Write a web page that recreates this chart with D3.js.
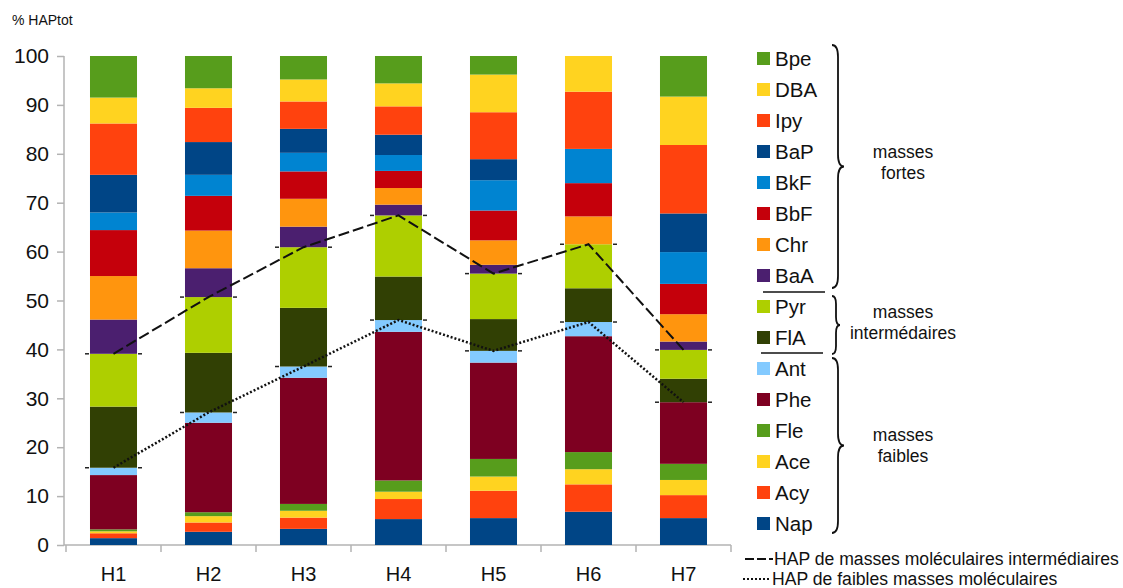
<!DOCTYPE html>
<html>
<head>
<meta charset="utf-8">
<script src="https://cdn.jsdelivr.net/npm/d3@7"></script>
<style>
  body { margin: 0; background: #fff; }
  text { font-family: "Liberation Sans", Arial, sans-serif; }
</style>
</head>
<body>
<div id="chart"></div>
<script>
const W = 1123, H = 588;
const margin = {top: 56, left: 66, bottom: 43};
const bandStep = 95;

// sites
const categories = ["H1", "H2", "H3", "H4", "H5", "H6", "H7"];
// species, bottom to top of each bar
const species = ["Nap", "Acy", "Ace", "Fle", "Phe", "Ant", "FlA", "Pyr", "BaA", "Chr", "BbF", "BkF", "BaP", "Ipy", "DBA", "Bpe"];
const colors = ["#004586", "#ff420e", "#ffd320", "#579d1c", "#7e0021", "#83caff", "#314004", "#aecf00",
                "#4b1f6f", "#ff950e", "#c5000b", "#0084d1", "#004586", "#ff420e", "#ffd320", "#579d1c"];

// % of total HAP per site
const nap = [1.4, 2.7, 3.3, 5.3, 5.5, 6.8, 5.5];
const acy = [1.0, 1.9, 2.3, 4.1, 5.6, 5.6, 4.7];
const ace = [0.4, 1.3, 1.4, 1.5, 2.9, 3.1, 3.1];
const fle = [0.4, 0.8, 1.4, 2.3, 3.6, 3.5, 3.3];
const phe = [11.1, 18.3, 25.8, 30.4, 19.7, 23.7, 12.6];
const ant = [1.5, 2.1, 2.3, 2.4, 2.4, 2.9, 0];
const fla = [12.5, 12.2, 12.0, 8.9, 6.5, 6.9, 4.8];
const pyr = [10.8, 11.4, 12.4, 12.5, 9.3, 9.0, 5.9];
const baa = [7.0, 5.9, 4.2, 2.2, 1.8, 0, 1.7];
const chr = [8.9, 7.7, 5.7, 3.4, 5.0, 5.7, 5.6];
const bbf = [9.4, 7.1, 5.6, 3.5, 6.1, 6.8, 6.2];
const bkf = [3.6, 4.3, 3.8, 3.25, 6.2, 7.0, 6.5];
const bap = [7.7, 6.7, 4.9, 4.15, 4.3, 0, 7.9];
const ipy = [10.5, 7.0, 5.6, 5.8, 9.6, 11.7, 14.0];
const dba = [5.3, 4.0, 4.5, 4.7, 7.7, 7.3, 9.9];
const bpe = [8.5, 6.6, 4.8, 5.6, 3.8, 0, 8.3];

const yTicks = [0, 10, 20, 30, 40, 50, 60, 70, 80, 90, 100];

const seriesValues = [nap, acy, ace, fle, phe, ant, fla, pyr, baa, chr, bbf, bkf, bap, ipy, dba, bpe];

// table for d3.stack
const table = categories.map((c, i) => {
    const row = {site: c};
    species.forEach((s, k) => { row[s] = seriesValues[k][i]; });
    return row;
});

const svg = d3.select("#chart").append("svg")
    .attr("width", W).attr("height", H);

const xScale = d3.scaleBand()
    .domain(categories)
    .range([margin.left, margin.left + bandStep * categories.length])
    .paddingInner(0.505).paddingOuter(0.2525);
const yScale = d3.scaleLinear().domain([0, 100]).range([H - margin.bottom, margin.top]);

const stacked = d3.stack().keys(species)(table);
const colorOf = d3.scaleOrdinal().domain(species).range(colors);

// y axis
const yAxis = svg.append("g")
    .attr("transform", "translate(64,0)")
    .call(d3.axisLeft(yScale).tickValues(yTicks).tickSize(7).tickPadding(8));
yAxis.select(".domain").attr("stroke", "#b3b3b3").attr("stroke-width", 1.5).attr("d", "M0," + yScale(0) + "V" + yScale(100));
yAxis.selectAll(".tick line").attr("stroke", "#b3b3b3").attr("stroke-width", 1.5);
yAxis.selectAll(".tick text").attr("font-size", 21).attr("fill", "#111");

svg.append("text").attr("x", 12).attr("y", 25).attr("font-size", 14).attr("fill", "#111").text("% HAPtot");

// x axis
const x0 = 64, x1 = margin.left + bandStep * categories.length;
svg.append("line").attr("x1", x0).attr("x2", x1).attr("y1", yScale(0)).attr("y2", yScale(0))
    .attr("stroke", "#b3b3b3").attr("stroke-width", 1.5);
svg.selectAll(".xtick").data(d3.range(categories.length + 1)).enter().append("line")
    .attr("x1", d => margin.left + d * bandStep).attr("x2", d => margin.left + d * bandStep)
    .attr("y1", yScale(0)).attr("y2", yScale(0) + 7)
    .attr("stroke", "#b3b3b3").attr("stroke-width", 1.5);
svg.selectAll(".xlab").data(categories).enter().append("text")
    .attr("x", d => xScale(d) + xScale.bandwidth() / 2)
    .attr("y", yScale(0) + 36)
    .attr("text-anchor", "middle").attr("font-size", 20).attr("fill", "#111")
    .text(d => d);

// line levels: cumulative low masses (through Ant) and low + intermediate (through Pyr)
const lowIdx = species.indexOf("Ant"), midIdx = species.indexOf("Pyr");
const lowLevel = categories.map((c, i) => stacked[lowIdx][i][1]);
const midLevel = categories.map((c, i) => stacked[midIdx][i][1]);

// bars
svg.append("g").selectAll("g").data(stacked).enter().append("g")
    .attr("fill", d => colorOf(d.key))
    .selectAll("rect").data(d => d).enter().append("rect")
    .attr("x", d => xScale(d.data.site))
    .attr("y", d => yScale(d[1]))
    .attr("height", d => Math.max(0, yScale(d[0]) - yScale(d[1])))
    .attr("width", xScale.bandwidth());

// small caps either side of each bar at line levels
[lowLevel, midLevel].forEach(lv => {
    const g = svg.append("g").attr("stroke", "#222").attr("stroke-width", 1.5);
    categories.forEach((c, i) => {
        const y = yScale(lv[i]);
        g.append("line").attr("x1", xScale(c) - 5).attr("x2", xScale(c) - 1).attr("y1", y).attr("y2", y);
        g.append("line").attr("x1", xScale(c) + xScale.bandwidth() + 1).attr("x2", xScale(c) + xScale.bandwidth() + 5).attr("y1", y).attr("y2", y);
    });
});

// lines
const lineGen = d3.line()
    .x((d, i) => xScale(categories[i]) + xScale.bandwidth() / 2)
    .y(d => yScale(d));
svg.append("path").datum(midLevel).attr("d", lineGen)
    .attr("fill", "none").attr("stroke", "#111").attr("stroke-width", 2).attr("stroke-dasharray", "11,4");
svg.append("path").datum(lowLevel).attr("d", lineGen)
    .attr("fill", "none").attr("stroke", "#111").attr("stroke-width", 2.5).attr("stroke-dasharray", "2,2");

// legend
const legendTop = 59, legendStep = 31;
const legendItems = species.slice().reverse();
const lg = svg.append("g");
legendItems.forEach((s, k) => {
    const cy = legendTop + k * legendStep;
    lg.append("rect").attr("x", 757).attr("y", cy - 7).attr("width", 13).attr("height", 13).attr("fill", colorOf(s));
    lg.append("text").attr("x", 775).attr("y", cy + 7).attr("font-size", 20.5).attr("fill", "#111").text(s);
});
// separators
lg.append("line").attr("x1", 763).attr("x2", 825).attr("y1", 292).attr("y2", 292).attr("stroke", "#111").attr("stroke-width", 1.5);
lg.append("line").attr("x1", 761).attr("x2", 823).attr("y1", 353).attr("y2", 353).attr("stroke", "#111").attr("stroke-width", 1.5);

function brace(x, y1, y2, w) {
    const ym = (y1 + y2) / 2;
    return "M" + x + "," + y1 +
        " Q" + (x + w) + "," + y1 + " " + (x + w) + "," + (y1 + w * 2) +
        " L" + (x + w) + "," + (ym - w * 2) +
        " Q" + (x + w) + "," + ym + " " + (x + w * 2) + "," + ym +
        " Q" + (x + w) + "," + ym + " " + (x + w) + "," + (ym + w * 2) +
        " L" + (x + w) + "," + (y2 - w * 2) +
        " Q" + (x + w) + "," + y2 + " " + x + "," + y2;
}
const braces = [
    {y1: 45, y2: 288, w: 6, lines: ["masses", "fortes"], ty: 158},
    {y1: 296, y2: 354, w: 4, lines: ["masses", "intermédaires"], ty: 318},
    {y1: 358, y2: 533, w: 6, lines: ["masses", "faibles"], ty: 441}
];
braces.forEach(b => {
    lg.append("path").attr("d", brace(832, b.y1, b.y2, b.w))
        .attr("fill", "none").attr("stroke", "#111").attr("stroke-width", 1.8);
    b.lines.forEach((t, j) => {
        lg.append("text").attr("x", 903).attr("y", b.ty + j * 21).attr("text-anchor", "middle")
            .attr("font-size", 17.5).attr("fill", "#111").text(t);
    });
});

// line legend
lg.append("line").attr("x1", 745).attr("x2", 773).attr("y1", 559).attr("y2", 559)
    .attr("stroke", "#111").attr("stroke-width", 2).attr("stroke-dasharray", "9,3");
lg.append("text").attr("x", 774).attr("y", 565).attr("font-size", 17.6).attr("fill", "#111")
    .text("HAP de masses moléculaires intermédiaires");
lg.append("line").attr("x1", 743).attr("x2", 771).attr("y1", 579).attr("y2", 579)
    .attr("stroke", "#111").attr("stroke-width", 2).attr("stroke-dasharray", "2,2");
lg.append("text").attr("x", 772).attr("y", 585).attr("font-size", 17.6).attr("fill", "#111")
    .text("HAP de faibles masses moléculaires");
</script>
</body>
</html>
